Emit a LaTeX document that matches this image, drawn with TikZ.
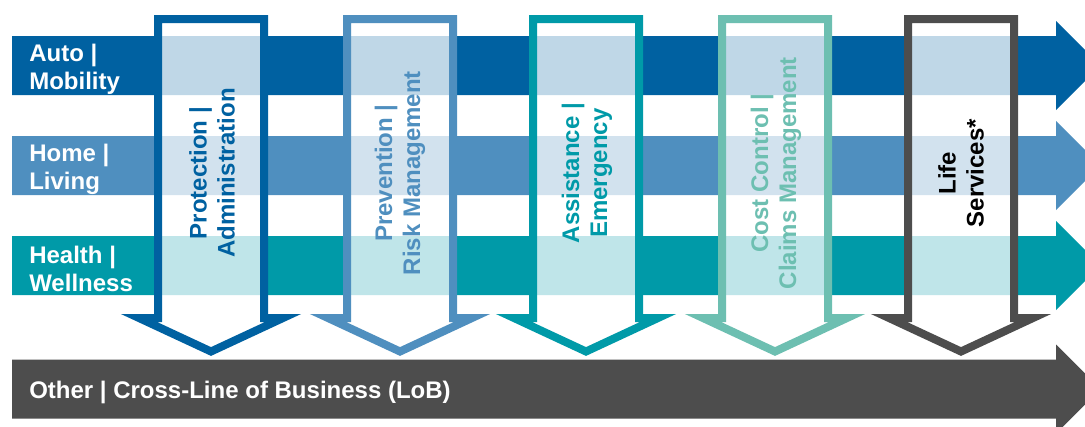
\documentclass[tikz,border=0pt]{standalone}
\usepackage{fontspec}
\setmainfont{Liberation Sans}
\usetikzlibrary{positioning}
\definecolor{autoblue}{HTML}{0061A1}
\definecolor{homeblue}{HTML}{4F8FBF}
\definecolor{healthteal}{HTML}{009AA8}
\definecolor{costmint}{HTML}{6DBFB1}
\definecolor{othergray}{HTML}{4D4D4D}
\tikzset{
    % Big bold sans used for every caption
    caption font/.style={font=\bfseries\fontsize{18}{21}\selectfont},
%
    % White text sitting on a line of business band
    lob label/.style={caption font, text=white, align=left,
        anchor=west, inner sep=0pt},
%
    % Hollow downward arrow, lets the bands show through faintly
    service arrow/.style={draw=#1, line width=6pt, line join=miter,
        fill=white, fill opacity=.75, draw opacity=1},
%
    % Upright text inside a service arrow
    service label/.style={caption font, text=#1, rotate=90,
        align=center, inner sep=0pt}}

\begin{document}
\begin{tikzpicture}[x=0.75pt, y=-0.75pt]
\useasboundingbox (0,0) rectangle (1085,426);
\clip (0,0) rectangle (1085,426);

% one band per line of business, heads run off the right edge
\foreach \yc/\col in {65.5/autoblue, 165.5/homeblue,
        265.5/healthteal, 389/othergray}
    \fill[\col] (12,{\yc-29.5}) -- (1056,{\yc-29.5})
        -- (1056,{\yc-44.5}) -- (1100.5,\yc) -- (1056,{\yc+44.5})
        -- (1056,{\yc+29.5}) -- (12,{\yc+29.5}) -- cycle;

\node[lob label] (auto) at (29,69) {Auto |\\Mobility};
\node[lob label] (home) at (29,169) {Home |\\Living};
\node[lob label] (health) at (29,269) {Health |\\Wellness};
\node[lob label] (other) at (29,392) {Other | Cross-Line of Business (LoB)};

% service fields cut across the bands
\foreach \xc/\col in {211/autoblue, 400/homeblue, 586/healthteal,
        775/costmint, 961/othergray}
    \draw[service arrow=\col] ({\xc-53},19) -- ({\xc+53},19)
        -- ({\xc+53},318) -- ({\xc+72},318) -- (\xc,351.5)
        -- ({\xc-72},318) -- ({\xc-53},318) -- cycle;

\node[service label=autoblue] (protection) at (212,173)
    {Protection |\\Administration};
\node[service label=homeblue] (prevention) at (400,173)
    {Prevention |\\Risk Management};
\node[service label=healthteal] (assistance) at (587,173)
    {Assistance |\\Emergency};
\node[service label=costmint] (costcontrol) at (776,173)
    {Cost Control |\\Claims Management};
\node[service label=black] (life) at (961,173)
    {Life\\Services*};

\end{tikzpicture}
\end{document}
